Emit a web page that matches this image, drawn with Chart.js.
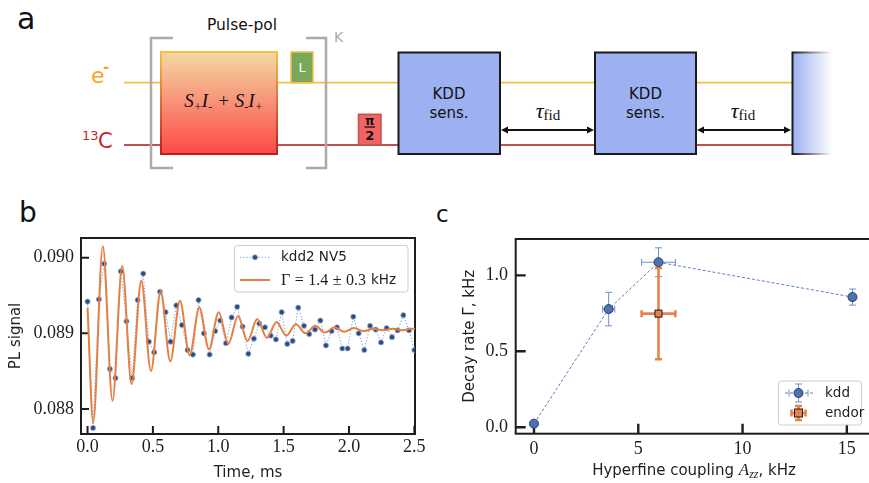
<!DOCTYPE html>
<html>
<head>
<meta charset="utf-8">
<script src="https://cdn.jsdelivr.net/npm/chart.js@4.4.1/dist/chart.umd.min.js"></script>
<style>
  html, body { margin:0; padding:0; background:#fff; }
  body { width:869px; height:483px; position:relative; overflow:hidden; font-family:"DejaVu Sans", sans-serif; }
  svg { position:absolute; left:0; top:0; }
  canvas { position:absolute; }
</style>
</head>
<body>
<svg width="869" height="483" font-family="DejaVu Sans">
  <defs>
    <linearGradient id="gMain" x1="0" y1="0" x2="0" y2="1">
      <stop offset="0" stop-color="#f2d9a4"/>
      <stop offset="1" stop-color="#ff4848"/>
    </linearGradient>
    <linearGradient id="gMainS" x1="0" y1="0" x2="0" y2="1">
      <stop offset="0" stop-color="#f6bf48"/>
      <stop offset="1" stop-color="#b81f22"/>
    </linearGradient>
    <linearGradient id="gFade" x1="0" y1="0" x2="1" y2="0">
      <stop offset="0" stop-color="#9db0f0"/>
      <stop offset="1" stop-color="#ffffff"/>
    </linearGradient>
    <linearGradient id="gFadeS" x1="0" y1="0" x2="1" y2="0">
      <stop offset="0" stop-color="#1a1a1a"/>
      <stop offset="1" stop-color="#ffffff"/>
    </linearGradient>
  </defs>
  <!-- panel labels -->
  <text x="17" y="29" font-size="30" fill="#111">a</text>
  <text x="19" y="222" font-size="28" fill="#111">b</text>
  <text x="436" y="222" font-size="23" fill="#111">c</text>

  <!-- channel lines -->
  <line x1="124" y1="82.7" x2="794" y2="82.7" stroke="#f6bd45" stroke-width="1.8"/>
  <line x1="124" y1="145" x2="794" y2="145" stroke="#c0504d" stroke-width="1.8"/>
  <text x="91" y="83" font-size="22" fill="#f5a623">e</text>
  <text x="103" y="72" font-size="15" font-weight="bold" fill="#f5a623">-</text>
  <text x="82" y="140" font-size="13" fill="#c1272d">13</text>
  <text x="98" y="148" font-size="21" fill="#c1272d">C</text>

  <!-- pulse-pol block -->
  <text x="242" y="30" font-size="15.5" text-anchor="middle" fill="#111">Pulse-pol</text>
  <path d="M173,38 H151 V168 H173" fill="none" stroke="#aaaaaa" stroke-width="2.5"/>
  <path d="M306,38 H326 V168 H306" fill="none" stroke="#aaaaaa" stroke-width="2.5"/>
  <text x="334" y="42" font-size="14" fill="#aaaaaa">K</text>
  <rect x="161" y="52" width="116" height="102" fill="url(#gMain)" stroke="url(#gMainS)" stroke-width="2"/>
  <text x="223.5" y="107" text-anchor="middle" font-family="Liberation Serif" font-style="italic" font-size="19" fill="#111">S<tspan font-size="12" dy="4">+</tspan><tspan dy="-4">I</tspan><tspan font-size="12" dy="4">-</tspan><tspan dy="-4" dx="6" font-style="normal">+</tspan><tspan dx="6">S</tspan><tspan font-size="12" dy="4">-</tspan><tspan dy="-4">I</tspan><tspan font-size="12" dy="4">+</tspan></text>
  <rect x="291" y="52" width="22" height="30.7" fill="#79a85a" stroke="#f6bd45" stroke-width="1.5"/>
  <text x="302" y="72" font-size="13" text-anchor="middle" fill="#ffffff">L</text>
  <rect x="358.5" y="114.3" width="22.5" height="30.7" fill="#f16464" stroke="#c0504d" stroke-width="1.5"/>
  <text x="369.7" y="125" font-size="12" font-weight="bold" text-anchor="middle" fill="#111">π</text>
  <line x1="364.5" y1="127" x2="375" y2="127" stroke="#111" stroke-width="1.3"/>
  <text x="369.7" y="140" font-size="13" font-weight="bold" text-anchor="middle" fill="#111">2</text>

  <!-- KDD blocks -->
  <rect x="398.5" y="52.5" width="101.5" height="101.5" fill="#9db1f2" stroke="#1a1a1a" stroke-width="2"/>
  <text x="449" y="99.3" font-size="15" text-anchor="middle" fill="#111">KDD</text>
  <text x="449" y="118.3" font-size="15" text-anchor="middle" fill="#111">sens.</text>
  <rect x="595" y="52.5" width="101" height="101.5" fill="#9db1f2" stroke="#1a1a1a" stroke-width="2"/>
  <text x="645.5" y="99.3" font-size="15" text-anchor="middle" fill="#111">KDD</text>
  <text x="645.5" y="118.3" font-size="15" text-anchor="middle" fill="#111">sens.</text>
  <rect x="792.5" y="52.5" width="40" height="101.5" fill="url(#gFade)" stroke="url(#gFadeS)" stroke-width="2"/>

  <!-- tau_fid arrows -->
  <line x1="503" y1="130" x2="592" y2="130" stroke="#111" stroke-width="2"/>
  <polygon points="501,130 508,126.5 508,133.5" fill="#111"/>
  <polygon points="594,130 587,126.5 587,133.5" fill="#111"/>
  <text x="548" y="118" text-anchor="middle" font-family="Liberation Serif" fill="#111"><tspan font-style="italic" font-size="22">τ</tspan><tspan font-size="15" dy="2">fid</tspan></text>
  <line x1="699" y1="130" x2="789" y2="130" stroke="#111" stroke-width="2"/>
  <polygon points="697,130 704,126.5 704,133.5" fill="#111"/>
  <polygon points="791,130 784,126.5 784,133.5" fill="#111"/>
  <text x="743" y="118" text-anchor="middle" font-family="Liberation Serif" fill="#111"><tspan font-style="italic" font-size="22">τ</tspan><tspan font-size="15" dy="2">fid</tspan></text>
</svg>

<canvas id="cb" width="430" height="288" style="left:0px;top:195px;width:430px;height:288px"></canvas>
<canvas id="cc" width="460" height="288" style="left:430px;top:195px;width:460px;height:288px"></canvas>

<script>
// ---------- Panel b data ----------
const timeB = [0.000,0.042,0.087,0.128,0.171,0.214,0.255,0.298,0.342,0.383,
               0.426,0.469,0.510,0.554,0.597,0.635,0.679,0.722,0.765,0.806,
               0.849,0.890,0.934,0.977,1.015,1.059,1.102,1.145,1.186,1.230,
               1.273,1.314,1.357,1.401,1.441,1.485,1.528,1.569,1.612,1.656,
               1.696,1.740,1.781,1.824,1.867,1.908,1.949,1.990,2.033,2.074,
               2.117,2.161,2.204,2.245,2.288,2.329,2.372,2.416,2.459,2.500];
const signalB = [0.08942,0.08775,0.08945,0.08992,0.08853,0.08841,0.08982,0.08916,0.08841,0.08944,
                 0.08979,0.08889,0.08875,0.08955,0.08928,0.08889,0.08937,0.08911,0.08878,0.08872,
                 0.08944,0.08900,0.08872,0.08903,0.08917,0.08887,0.08921,0.08935,0.08909,0.08873,
                 0.08893,0.08913,0.08908,0.08897,0.08892,0.08928,0.08886,0.08890,0.08934,0.08910,
                 0.08899,0.08905,0.08917,0.08884,0.08903,0.08908,0.08880,0.08880,0.08922,0.08900,
                 0.08878,0.08910,0.08905,0.08888,0.08907,0.08895,0.08904,0.08924,0.08904,0.08878];
// fit curve, read at its start, turning points and end
const fitT = [0.000,0.043,0.117,0.191,0.265,0.337,0.411,0.485,0.559,0.633,
              0.707,0.781,0.855,0.929,1.003,1.077,1.151,1.224,1.298,1.372,
              1.446,1.520,1.594,1.668,1.742,1.816,1.890,1.964,2.038,2.112,
              2.186,2.260,2.334,2.408,2.482,2.505];
const fitV = [0.08934,0.08782,0.09015,0.08811,0.08989,0.08833,0.08970,0.08850,0.08956,0.08863,
              0.08943,0.08871,0.08934,0.08879,0.08928,0.08886,0.08923,0.08890,0.08919,0.08894,
              0.08915,0.08897,0.08912,0.08900,0.08910,0.08901,0.08908,0.08902,0.08907,0.08903,
              0.08906,0.08904,0.08906,0.08904,0.08906,0.08906];
const xTicksB = [0.0,0.5,1.0,1.5,2.0,2.5];
const yTicksB = [0.088,0.089,0.090];
const seriesNamesB = ['kdd2 NV5','Γ = 1.4 ± 0.3 kHz'];

// ---------- Panel c data ----------
const couplingKdd = [0.0,3.58,5.97,15.27];
const rateKdd     = [0.024,0.778,1.086,0.857];
const xErrKdd     = [0.0,0.29,0.81,0.15];
const yErrKdd     = [0.0,0.11,0.095,0.053];
const couplingEndor = [5.97];
const rateEndor     = [0.748];
const xErrEndor     = [0.81];
const yErrEndor     = [0.30];
const xTicksC = [0,5,10,15];
const yTicksC = [0.0,0.5,1.0];
const seriesNamesC = ['kdd','endor'];

const SERIF = "'Liberation Serif', 'DejaVu Serif', serif";
const SANS = "'DejaVu Sans', sans-serif";
const INK = '#1e1e1e';
const TICK_SIZE = 18;

// frame + inward ticks
const framePlugin = {
  id: 'frame',
  beforeDatasetsDraw(chart, args, o) {
    const {ctx, chartArea: a, scales} = chart;
    ctx.save();
    ctx.strokeStyle = INK;
    ctx.lineWidth = o.tickWidth;
    ctx.beginPath();
    scales.x.ticks.forEach(t => { const p = scales.x.getPixelForValue(t.value); ctx.moveTo(p, a.bottom); ctx.lineTo(p, a.bottom - o.tickLen); });
    scales.y.ticks.forEach(t => { const p = scales.y.getPixelForValue(t.value); ctx.moveTo(a.left, p); ctx.lineTo(a.left + o.tickLen, p); });
    ctx.stroke();
    ctx.lineWidth = o.width;
    ctx.strokeRect(a.left, a.top, a.right - a.left, a.bottom - a.top);
    ctx.restore();
  }
};

function roundRect(ctx, x, y, w, h, r) {
  ctx.beginPath();
  ctx.moveTo(x + r, y); ctx.lineTo(x + w - r, y); ctx.quadraticCurveTo(x + w, y, x + w, y + r);
  ctx.lineTo(x + w, y + h - r); ctx.quadraticCurveTo(x + w, y + h, x + w - r, y + h);
  ctx.lineTo(x + r, y + h); ctx.quadraticCurveTo(x, y + h, x, y + h - r);
  ctx.lineTo(x, y + r); ctx.quadraticCurveTo(x, y, x + r, y);
  ctx.closePath();
}

// error bars (panel c)
const errPlugin = {
  id: 'errbars',
  beforeDatasetsDraw(chart) {
    const {ctx, scales: {x, y}} = chart;
    chart.data.datasets.forEach(ds => {
      if (!ds.errX) return;
      ctx.save();
      ctx.strokeStyle = ds.errColor; ctx.lineWidth = ds.errWidth;
      ds.data.forEach((p, i) => {
        const px = x.getPixelForValue(p.x), py = y.getPixelForValue(p.y), c = ds.capSize;
        ctx.beginPath();
        if (ds.errX[i] > 0) {
          const x0 = x.getPixelForValue(p.x - ds.errX[i]), x1 = x.getPixelForValue(p.x + ds.errX[i]);
          ctx.moveTo(x0, py); ctx.lineTo(x1, py);
          ctx.moveTo(x0, py - c); ctx.lineTo(x0, py + c);
          ctx.moveTo(x1, py - c); ctx.lineTo(x1, py + c);
        }
        if (ds.errY[i] > 0) {
          const y0 = y.getPixelForValue(p.y - ds.errY[i]), y1 = y.getPixelForValue(p.y + ds.errY[i]);
          ctx.moveTo(px, y0); ctx.lineTo(px, y1);
          ctx.moveTo(px - c, y0); ctx.lineTo(px + c, y0);
          ctx.moveTo(px - c, y1); ctx.lineTo(px + c, y1);
        }
        ctx.stroke();
      });
      ctx.restore();
    });
  }
};

// legend of panel b
const legendB = {
  id: 'legendB',
  afterDraw(chart) {
    const ctx = chart.ctx;
    ctx.save();
    roundRect(ctx, 234.5, 50.5, 173.5, 46.5, 3);
    ctx.fillStyle = 'rgba(255,255,255,0.85)'; ctx.fill();
    ctx.strokeStyle = '#cccccc'; ctx.lineWidth = 1; ctx.stroke();
    const ds0 = chart.data.datasets[0];
    ctx.strokeStyle = ds0.borderColor; ctx.lineWidth = 1; ctx.setLineDash(ds0.borderDash);
    ctx.beginPath(); ctx.moveTo(240, 62.3); ctx.lineTo(270, 62.3); ctx.stroke();
    ctx.setLineDash([]);
    ctx.beginPath(); ctx.arc(255, 62.3, 2.6, 0, Math.PI * 2);
    ctx.fillStyle = ds0.pointBackgroundColor; ctx.fill();
    ctx.strokeStyle = ds0.pointBorderColor; ctx.lineWidth = 0.8; ctx.stroke();
    ctx.fillStyle = INK; ctx.textBaseline = 'middle'; ctx.textAlign = 'left';
    ctx.font = '13.5px ' + SANS;
    ctx.fillText(seriesNamesB[0], 281, 62.5);
    const ds1 = chart.data.datasets[1];
    ctx.strokeStyle = ds1.borderColor; ctx.lineWidth = 2;
    ctx.beginPath(); ctx.moveTo(240, 85); ctx.lineTo(270, 85); ctx.stroke();
    const parts = seriesNamesB[1].split(' ');
    let xx = 281;
    parts.forEach((p, i) => {
      const isUnit = (i === parts.length - 1);
      ctx.font = isUnit ? '13.5px ' + SANS : '16px ' + SERIF;
      ctx.fillText(p, xx, 85.5);
      xx += ctx.measureText(p).width + (i === parts.length - 2 ? 5 : 4.5);
    });
    ctx.restore();
  }
};

// legend + x title of panel c
const legendC = {
  id: 'legendC',
  afterDraw(chart) {
    const ctx = chart.ctx;
    ctx.save();
    roundRect(ctx, 348.5, 186, 83, 44, 3);
    ctx.fillStyle = 'rgba(255,255,255,0.85)'; ctx.fill();
    ctx.strokeStyle = '#cccccc'; ctx.lineWidth = 1; ctx.stroke();
    const d0 = chart.data.datasets[0], d1 = chart.data.datasets[1];
    const mx = 368.5, y0 = 198, y1 = 218;
    ctx.strokeStyle = d0.borderColor; ctx.lineWidth = 1; ctx.setLineDash(d0.borderDash);
    ctx.beginPath(); ctx.moveTo(355, y0); ctx.lineTo(383, y0); ctx.stroke();
    ctx.setLineDash([]);
    ctx.strokeStyle = d0.errColor; ctx.lineWidth = d0.errWidth;
    ctx.beginPath();
    ctx.moveTo(mx, y0 - 9); ctx.lineTo(mx, y0 + 9);
    ctx.moveTo(mx - 3.5, y0 - 9); ctx.lineTo(mx + 3.5, y0 - 9);
    ctx.moveTo(mx - 3.5, y0 + 9); ctx.lineTo(mx + 3.5, y0 + 9);
    ctx.moveTo(359, y0 - 3.5); ctx.lineTo(359, y0 + 3.5);
    ctx.moveTo(378, y0 - 3.5); ctx.lineTo(378, y0 + 3.5);
    ctx.stroke();
    ctx.beginPath(); ctx.arc(mx, y0, 4.5, 0, Math.PI * 2);
    ctx.fillStyle = d0.pointBackgroundColor; ctx.fill();
    ctx.strokeStyle = d0.pointBorderColor; ctx.lineWidth = 1; ctx.stroke();
    ctx.strokeStyle = d1.errColor; ctx.lineWidth = d1.errWidth;
    ctx.beginPath();
    ctx.moveTo(mx, y1 - 7); ctx.lineTo(mx, y1 + 7);
    ctx.moveTo(mx - 3.5, y1 - 7); ctx.lineTo(mx + 3.5, y1 - 7);
    ctx.moveTo(mx - 3.5, y1 + 7); ctx.lineTo(mx + 3.5, y1 + 7);
    ctx.moveTo(mx - 7, y1); ctx.lineTo(mx + 7, y1);
    ctx.moveTo(mx - 7, y1 - 3.5); ctx.lineTo(mx - 7, y1 + 3.5);
    ctx.moveTo(mx + 7, y1 - 3.5); ctx.lineTo(mx + 7, y1 + 3.5);
    ctx.stroke();
    ctx.fillStyle = d1.pointBackgroundColor; ctx.fillRect(mx - 4, y1 - 4, 8, 8);
    ctx.strokeStyle = d1.pointBorderColor; ctx.lineWidth = 1; ctx.strokeRect(mx - 4, y1 - 4, 8, 8);
    ctx.fillStyle = INK; ctx.textBaseline = 'middle'; ctx.textAlign = 'left';
    ctx.font = '13.5px ' + SANS;
    ctx.fillText(seriesNamesC[0], 395, y0 + 0.5);
    ctx.fillText(seriesNamesC[1], 395, y1 + 0.5);

    const segs = [
      {t: 'Hyperfine coupling ', f: '15px ' + SANS, dy: 0},
      {t: 'A', f: 'italic 17px ' + SERIF, dy: 0},
      {t: 'zz', f: 'italic 12px ' + SERIF, dy: 3},
      {t: ', kHz', f: '15px ' + SANS, dy: 0}
    ];
    let w = 0;
    segs.forEach(s => { ctx.font = s.f; s.w = ctx.measureText(s.t).width; w += s.w; });
    let xx = 264 - w / 2;
    ctx.textBaseline = 'alphabetic';
    segs.forEach(s => { ctx.font = s.f; ctx.fillText(s.t, xx, 280 + s.dy); xx += s.w; });
    ctx.restore();
  }
};

function build() {
  Chart.defaults.font.family = SANS;
  Chart.defaults.color = INK;

  new Chart(document.getElementById('cb'), {
    type: 'scatter',
    data: {
      datasets: [
        {
          label: seriesNamesB[0],
          data: timeB.map((t, i) => ({x: t, y: signalB[i]})),
          showLine: true,
          borderColor: '#7e9fd6',
          borderWidth: 1,
          borderDash: [1.3, 1.8],
          pointRadius: 2.6,
          pointBackgroundColor: '#2c4a7e',
          pointBorderColor: '#a3b7dd',
          pointBorderWidth: 0.8,
          order: 2
        },
        {
          label: seriesNamesB[1],
          data: fitT.map((t, i) => ({x: t, y: fitV[i]})),
          showLine: true,
          borderColor: '#e57f42',
          borderWidth: 2,
          pointRadius: 0,
          cubicInterpolationMode: 'monotone',
          order: 1
        }
      ]
    },
    options: {
      responsive: false, animation: false, devicePixelRatio: 1,
      layout: {padding: {left: 0, right: 15, top: 43, bottom: 0}},
      plugins: {legend: {display: false}, tooltip: {enabled: false}, frame: {width: 2, tickLen: 8, tickWidth: 2}},
      scales: {
        x: {
          type: 'linear', min: -0.05, max: 2.505,
          grid: {display: false, drawTicks: false}, border: {display: false},
          afterBuildTicks: s => { s.ticks = xTicksB.map(v => ({value: v})); },
          afterFit: s => { s.height = 49; },
          ticks: {font: {family: SERIF, size: TICK_SIZE}, color: INK, padding: 2, maxRotation: 0, autoSkip: false,
                  callback: v => Number(v).toFixed(1)},
          title: {display: true, text: 'Time, ms', font: {family: SANS, size: 15}, color: INK, padding: {top: 0, bottom: 1}}
        },
        y: {
          type: 'linear', min: 0.08767, max: 0.09026,
          grid: {display: false, drawTicks: false}, border: {display: false},
          afterBuildTicks: s => { s.ticks = yTicksB.map(v => ({value: v})); },
          afterFit: s => { s.width = 81; },
          ticks: {font: {family: SERIF, size: TICK_SIZE}, color: INK, padding: 7, autoSkip: false,
                  callback: v => Number(v).toFixed(3)},
          title: {display: true, text: 'PL signal', font: {family: SANS, size: 15}, color: INK, padding: {top: 7, bottom: 0}}
        }
      }
    },
    plugins: [framePlugin, legendB]
  });

  new Chart(document.getElementById('cc'), {
    type: 'scatter',
    data: {
      datasets: [
        {
          label: seriesNamesC[0],
          data: couplingKdd.map((v, i) => ({x: v, y: rateKdd[i]})),
          showLine: true,
          borderColor: '#5a7fc2',
          borderWidth: 1,
          borderDash: [3, 2],
          pointRadius: 4.5,
          pointBackgroundColor: '#4c72b0',
          pointBorderColor: '#283f66',
          pointBorderWidth: 1,
          errX: xErrKdd, errY: yErrKdd, errColor: '#6f90cc', errWidth: 1, capSize: 3.5
        },
        {
          label: seriesNamesC[1],
          data: couplingEndor.map((v, i) => ({x: v, y: rateEndor[i]})),
          showLine: false,
          pointStyle: 'rect',
          pointRadius: 5,
          pointBackgroundColor: '#dd8452',
          pointBorderColor: '#1a1a1a',
          pointBorderWidth: 1,
          errX: xErrEndor, errY: yErrEndor, errColor: '#e8834a', errWidth: 2.6, capSize: 3.5
        }
      ]
    },
    options: {
      responsive: false, animation: false, devicePixelRatio: 1,
      layout: {padding: {left: 0, right: 10, top: 44, bottom: 0}},
      plugins: {legend: {display: false}, tooltip: {enabled: false}, frame: {width: 2, tickLen: 10, tickWidth: 2.4}},
      scales: {
        x: {
          type: 'linear', min: -0.877, max: 16.59,
          grid: {display: false, drawTicks: false}, border: {display: false},
          afterBuildTicks: s => { s.ticks = xTicksC.map(v => ({value: v})); },
          afterFit: s => { s.height = 49.3; },
          ticks: {font: {family: SERIF, size: TICK_SIZE}, color: INK, padding: 5, maxRotation: 0, autoSkip: false,
                  callback: v => String(v)},
          title: {display: false}
        },
        y: {
          type: 'linear', min: -0.042, max: 1.239,
          grid: {display: false, drawTicks: false}, border: {display: false},
          afterBuildTicks: s => { s.ticks = yTicksC.map(v => ({value: v})); },
          afterFit: s => { s.width = 85.7; },
          ticks: {font: {family: SERIF, size: TICK_SIZE}, color: INK, padding: 7.7, autoSkip: false,
                  callback: v => Number(v).toFixed(1)},
          title: {display: true, text: 'Decay rate Γ, kHz', font: {family: SANS, size: 15}, color: INK, padding: {top: 31, bottom: 0}}
        }
      }
    },
    plugins: [errPlugin, framePlugin, legendC]
  });
}

const fontLoads = [
  document.fonts.load("18px 'Liberation Serif'"),
  document.fonts.load("italic 17px 'Liberation Serif'"),
  document.fonts.load("15px 'DejaVu Sans'")
];
Promise.all(fontLoads).then(build, build);
</script>
</body>
</html>
